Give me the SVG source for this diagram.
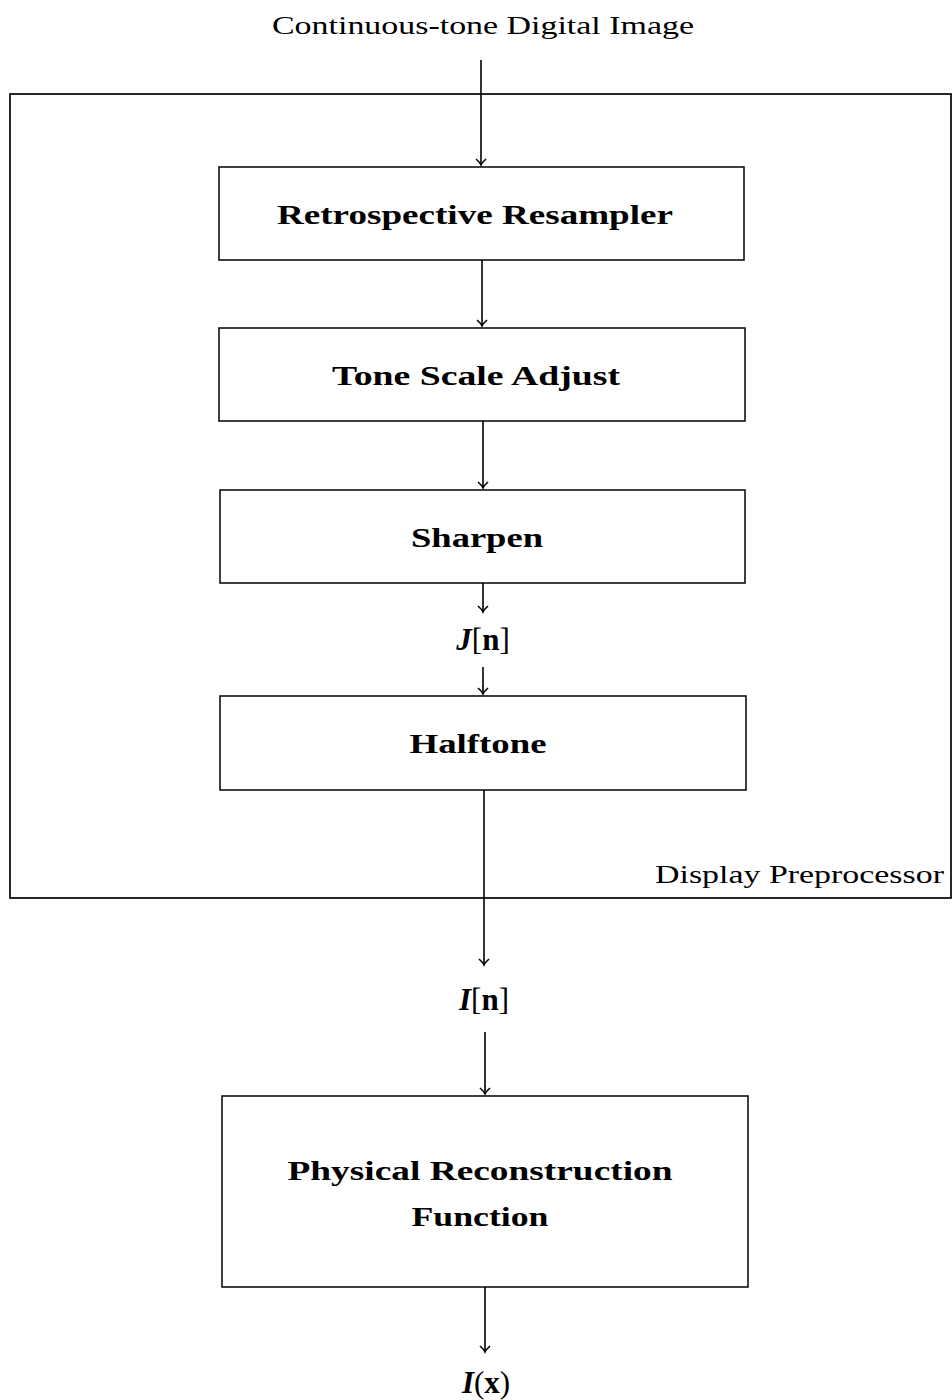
<svg xmlns="http://www.w3.org/2000/svg" width="952" height="1400" viewBox="0 0 952 1400">
<defs>
<marker id="ah" viewBox="-8 -6 10 12" refX="0" refY="0" markerWidth="10" markerHeight="12" markerUnits="userSpaceOnUse" orient="auto">
<path d="M-6,-5 Q-2.5,-1 0,0 Q-2.5,1 -6,5" fill="none" stroke="#000" stroke-width="1.6"/>
</marker>
</defs>
<style>
.box{fill:#fff;stroke:#111;stroke-width:1.6}
.frame{fill:none;stroke:#111;stroke-width:1.8}
.lbl{font-family:"Liberation Serif","DejaVu Serif",serif;font-weight:bold;font-size:27px;fill:#000;text-anchor:middle}
.txt{font-family:"Liberation Serif","DejaVu Serif",serif;font-size:26px;fill:#000}
.math{font-family:"Liberation Serif","DejaVu Serif",serif;font-size:31px;fill:#000;text-anchor:middle}
.mi{font-style:italic;font-weight:bold}
.mb{font-weight:bold}
.con{stroke:#000;stroke-width:1.6;fill:none;marker-end:url(#ah)}
</style>
<rect width="952" height="1400" fill="#fff"/>
<g id="preprocessor">
<rect class="frame" x="10" y="94" width="941" height="804"/>
<text class="txt" x="944" y="883" text-anchor="end" textLength="289" lengthAdjust="spacingAndGlyphs">Display Preprocessor</text>
</g>
<g id="input"><text class="txt" x="483" y="34" text-anchor="middle" textLength="422" lengthAdjust="spacingAndGlyphs">Continuous-tone Digital Image</text></g>
<g id="resampler"><rect class="box" x="219" y="167" width="525" height="93"/><text class="lbl" x="475" y="224" textLength="396" lengthAdjust="spacingAndGlyphs">Retrospective Resampler</text></g>
<g id="tonescale"><rect class="box" x="219" y="328" width="526" height="93"/><text class="lbl" x="476" y="385" textLength="288" lengthAdjust="spacingAndGlyphs">Tone Scale Adjust</text></g>
<g id="sharpen"><rect class="box" x="220" y="490" width="525" height="93"/><text class="lbl" x="477" y="547" textLength="132" lengthAdjust="spacingAndGlyphs">Sharpen</text></g>
<g id="jn"><text class="math" x="483" y="650"><tspan class="mi">J</tspan>[<tspan class="mb">n</tspan>]</text></g>
<g id="halftone"><rect class="box" x="220" y="696" width="526" height="94"/><text class="lbl" x="478" y="753" textLength="137" lengthAdjust="spacingAndGlyphs">Halftone</text></g>
<g id="in"><text class="math" x="484" y="1010"><tspan class="mi">I</tspan>[<tspan class="mb">n</tspan>]</text></g>
<g id="reconstruction"><rect class="box" x="222" y="1096" width="526" height="191"/>
<text class="lbl" x="480" y="1180" textLength="385" lengthAdjust="spacingAndGlyphs">Physical Reconstruction</text>
<text class="lbl" x="480" y="1226" textLength="137" lengthAdjust="spacingAndGlyphs">Function</text></g>
<g id="ix"><text class="math" x="486" y="1393"><tspan class="mi">I</tspan>(<tspan class="mb">x</tspan>)</text></g>
<g id="connectors">
<line class="con" x1="481" y1="60" x2="481" y2="165"/>
<line class="con" x1="482" y1="260" x2="482" y2="326"/>
<line class="con" x1="483" y1="421" x2="483" y2="488"/>
<line class="con" x1="483" y1="583" x2="483" y2="612"/>
<line class="con" x1="483" y1="667" x2="483" y2="694"/>
<line class="con" x1="484" y1="790" x2="484" y2="965"/>
<line class="con" x1="485" y1="1032" x2="485" y2="1094"/>
<line class="con" x1="485" y1="1287" x2="485" y2="1352"/>
</g>
</svg>
